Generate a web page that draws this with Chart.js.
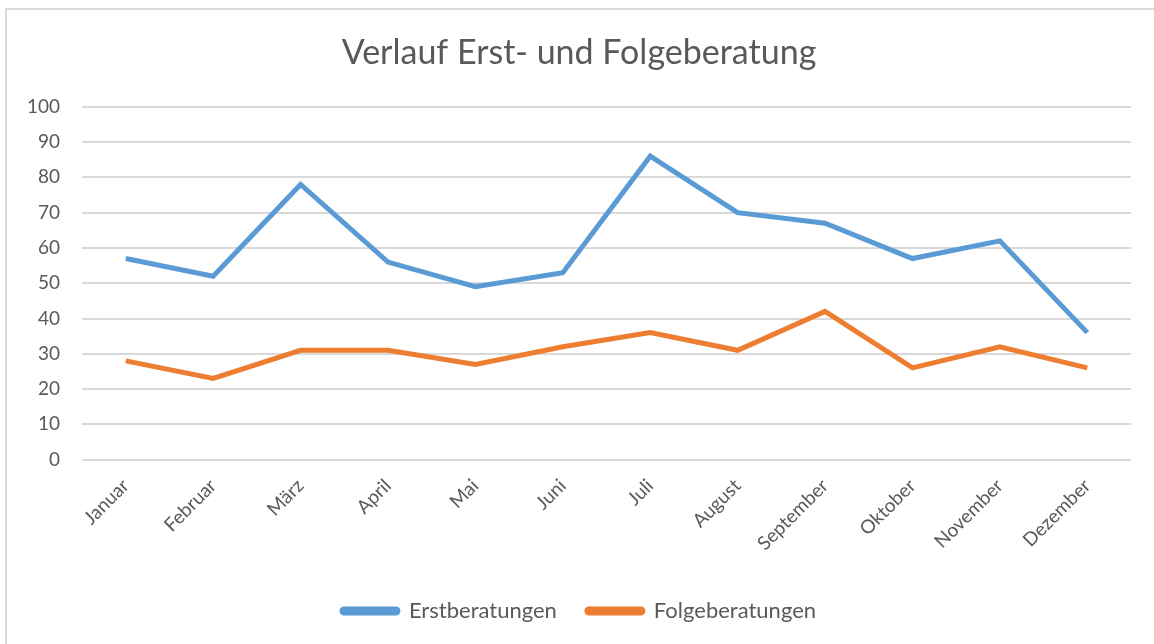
<!DOCTYPE html>
<html>
<head>
<meta charset="utf-8">
<script src="https://cdn.jsdelivr.net/npm/chart.js@4"></script>
<style>
  body { margin: 0; background: #fff; }
  #wrap { position: relative; width: 1154px; height: 644px; overflow: hidden; }
  #frame { position: absolute; left: 5px; top: 8px; width: 1200px; height: 700px;
           border-left: 2px solid #d9d9d9; border-top: 2px solid #d9d9d9; }
  canvas { position: absolute; left: 0; top: 0; }
</style>
</head>
<body>
<div id="wrap">
  <div id="frame"></div>
  <canvas id="chart" width="1154" height="644"></canvas>
</div>
<script>
// Monate und Werte
var monate = ['Januar', 'Februar', 'März', 'April', 'Mai', 'Juni', 'Juli', 'August', 'September', 'Oktober', 'November', 'Dezember'];
var erstberatungen = [57, 52, 78, 56, 49, 53, 86, 70, 67, 57, 62, 36];
var folgeberatungen = [28, 23, 31, 31, 27, 32, 36, 31, 42, 26, 32, 26];

var schrift = 'Lato, "Noto Sans", sans-serif';
var grau = '#595959';

var ctx = document.getElementById('chart');
new Chart(ctx, {
    type: 'line',
    data: {
        labels: monate,
        datasets: [{
            label: 'Erstberatungen',
            data: erstberatungen,
            borderColor: '#5b9bd5',
            backgroundColor: '#5b9bd5',
            borderWidth: 5,
            pointRadius: 0,
            tension: 0
        }, {
            label: 'Folgeberatungen',
            data: folgeberatungen,
            borderColor: '#ed7d31',
            backgroundColor: '#ed7d31',
            borderWidth: 5,
            pointRadius: 0,
            tension: 0
        }]
    },
    options: {
        responsive: false,
        animation: false,
        layout: { padding: { left: 27, right: 23, top: 33, bottom: 12 } },
        plugins: {
            title: {
                display: true,
                text: 'Verlauf Erst- und Folgeberatung',
                color: grau,
                font: { family: schrift, size: 34, weight: 'normal' },
                padding: { top: 0, bottom: 33 }
            },
            legend: {
                position: 'bottom',
                labels: {
                    color: grau,
                    font: { family: schrift, size: 22 },
                    boxWidth: 56,
                    boxHeight: 4,
                    useBorderRadius: true,
                    borderRadius: 2,
                    padding: 30
                }
            },
            tooltip: { enabled: false }
        },
        scales: {
            x: {
                offset: true,
                grid: { display: false, drawTicks: false },
                border: { display: false },
                ticks: {
                    color: grau,
                    font: { family: schrift, size: 19 },
                    minRotation: 45,
                    maxRotation: 45,
                    padding: 15
                }
            },
            y: {
                min: 0,
                max: 100,
                grid: { color: '#d9d9d9', lineWidth: 2, drawTicks: false },
                border: { display: false },
                ticks: {
                    stepSize: 10,
                    color: grau,
                    font: { family: schrift, size: 19 },
                    padding: 22
                },
                // Chart.js rechnet das Padding doppelt, links brauchen wir es nicht
                afterFit: function(scale) { scale.width -= 22; }
            }
        }
    }
});
</script>
</body>
</html>
